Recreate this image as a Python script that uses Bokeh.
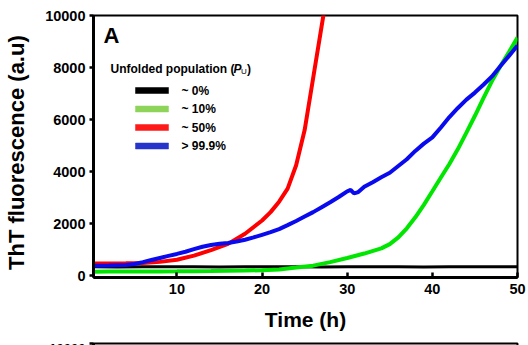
from bokeh.plotting import figure
from bokeh.layouts import column
from bokeh.models import Range1d, FixedTicker
from bokeh.core.properties import value
from bokeh.embed import file_html
from bokeh.resources import INLINE

# ---------------- data ----------------
t_black = [0.2, 3, 6, 9, 12, 15, 18, 21, 24, 27, 30, 33, 36, 39, 42, 45, 48, 50]
v_black = [350, 345, 352, 348, 350, 346, 352, 349, 350, 347, 352, 348, 350, 346, 351, 348, 350, 349]

t_green = [0.2, 2, 4, 6, 8, 10, 12, 14, 16, 18, 20, 22, 24, 26, 28, 30, 32, 34, 35,
           36, 37, 38, 39, 40, 41, 42, 43, 44, 45, 46, 47, 48, 49, 50]
v_green = [165, 168, 170, 172, 175, 178, 182, 188, 196, 206, 220, 250, 320, 395, 530, 690,
           860, 1060, 1220, 1480, 1830, 2250, 2730, 3250, 3780, 4300, 4870, 5500, 6150,
           6830, 7480, 8060, 8600, 9150]

t_red = [0.2, 2, 4, 6, 8, 10, 12, 14, 16, 18, 20, 21, 22, 23, 24, 25, 26, 27, 27.5]
v_red = [480, 480, 485, 500, 540, 620, 780, 990, 1230, 1620, 2130, 2450, 2850, 3350,
         4250, 5600, 7600, 9600, 10600]

t_blue = [0.2, 2, 4, 5, 6, 7, 8, 9, 10, 11, 12, 13, 14, 15, 16, 17, 18, 19, 20, 21, 22,
          23, 24, 25, 26, 27, 28, 29, 30, 30.4, 30.8, 31.3, 32, 33, 34, 35, 36, 37, 38,
          39, 40, 41, 42, 43, 44, 45, 46, 47, 48, 49, 50]
v_blue = [395, 400, 420, 460, 530, 610, 690, 770, 845, 930, 1030, 1120, 1190, 1235, 1265,
          1320, 1390, 1480, 1580, 1680, 1800, 1950, 2110, 2280, 2450, 2640, 2830, 3030,
          3250, 3300, 3170, 3220, 3420, 3600, 3790, 3960, 4220, 4480, 4800, 5080, 5320,
          5700, 6100, 6450, 6770, 7040, 7340, 7660, 8060, 8450, 8850]

legend_labels = ["~ 0%", "~ 10%", "~ 50%", "> 99.9%"]
line_colors = ["#000000", "#00e600", "#ff0000", "#0a0aee"]
swatch_colors = ["#000000", "#8ed45a", "#ff1a1a", "#2634cc"]
x_ticks = [10, 20, 30, 40, 50]
y_ticks = [0, 2000, 4000, 6000, 8000, 10000]

FONT = "Liberation Sans"
TICK_SIZE = "14.5px"

# ---------------- geometry ----------------
W, H = 528, 337
FL, FR, FT, FB = 93, 517, 15, 277
X0, X1 = 0.2, 50.0
Y0, Y1 = -60.0, 10000.0


def sx(px):
    return X0 + (px - FL) / (FR - FL) * (X1 - X0)


def sy(py):
    return Y0 + (FB - py) / (FB - FT) * (Y1 - Y0)


p = figure(width=W, height=H, output_backend="svg", toolbar_location=None,
           x_range=Range1d(X0, X1), y_range=Range1d(Y0, Y1),
           min_border_left=FL, min_border_right=W - FR,
           min_border_top=FT, min_border_bottom=H - FB)
p.grid.visible = False
p.outline_line_color = "black"
p.outline_line_width = 2
p.background_fill_color = "white"
p.border_fill_color = "white"

for ax in (p.xaxis[0], p.yaxis[0]):
    ax.axis_line_width = 3
    ax.axis_line_color = "black"
    ax.major_tick_line_width = 2.5
    ax.major_tick_line_color = "black"
    ax.minor_tick_line_color = None
    ax.major_label_text_font = FONT
    ax.major_label_text_font_style = "bold"
    ax.major_label_text_font_size = TICK_SIZE
    ax.major_label_text_color = "black"
    ax.axis_label_text_font = FONT
    ax.axis_label_text_font_style = "bold"
    ax.axis_label_text_font_size = "21px"
    ax.axis_label_text_color = "black"

p.xaxis.ticker = FixedTicker(ticks=x_ticks)
p.xaxis.major_tick_in = 5
p.xaxis.major_tick_out = 0
p.xaxis.major_label_standoff = 6
p.xaxis.axis_label = "Time (h)"
p.xaxis.axis_label_standoff = 11

p.yaxis.ticker = FixedTicker(ticks=y_ticks)
p.yaxis.major_tick_in = 0
p.yaxis.major_tick_out = 4
p.yaxis.major_label_standoff = 4
p.yaxis.axis_label = "ThT fluorescence (a.u)  "
p.yaxis.axis_label_text_font_size = "22px"
p.yaxis.axis_label_standoff = 13

# ---------------- curves ----------------
p.line(t_black, v_black, line_color=line_colors[0], line_width=3)
p.line(t_green, v_green, line_color=line_colors[1], line_width=4)
p.line(t_red, v_red, line_color=line_colors[2], line_width=4)
p.line(t_blue, v_blue, line_color=line_colors[3], line_width=4)

# ---------------- annotations ----------------
p.text(x=[sx(103)], y=[sy(35)], text=["A"], text_font=value(FONT),
       text_font_style="bold", text_font_size="22px", text_baseline="middle",
       text_align="left", text_color="black")

p.text(x=[sx(110)], y=[sy(68)], text=["Unfolded population ("], text_font=value(FONT),
       text_font_style="bold", text_font_size="12px", text_baseline="middle",
       text_align="left", text_color="black")
p.text(x=[sx(233)], y=[sy(68)], text=["P"], text_font=value(FONT),
       text_font_style="bold italic", text_font_size="12px", text_baseline="middle",
       text_align="left", text_color="black")
p.text(x=[sx(240.5)], y=[sy(71)], text=["U"], text_font=value(FONT),
       text_font_style="normal", text_font_size="8px", text_baseline="middle",
       text_align="left", text_color="black")
p.text(x=[sx(246.5)], y=[sy(68)], text=[")"], text_font=value(FONT),
       text_font_style="bold", text_font_size="12px", text_baseline="middle",
       text_align="left", text_color="black")

rows_py = [90, 108.5, 127, 145.5]
p.rect(x=[sx(151.5)] * 4, y=[sy(r) for r in rows_py], width=33, height=6,
       width_units="screen", height_units="screen",
       fill_color=swatch_colors, line_color=swatch_colors, line_width=0.5)
p.text(x=[sx(181)] * 4, y=[sy(r) for r in rows_py], text=legend_labels,
       text_font=value(FONT), text_font_style="bold", text_font_size="12px",
       text_baseline="middle", text_align="left", text_color="black")

# ---------------- top of next panel (cut off) ----------------
p2 = figure(width=W, height=8, output_backend="svg", toolbar_location=None,
            x_range=Range1d(X0, X1), y_range=Range1d(9990, 10000),
            min_border_left=FL, min_border_right=W - FR, min_border_top=2,
            min_border_bottom=0, x_axis_location=None)
p2.grid.visible = False
p2.outline_line_color = "black"
p2.outline_line_width = 2
p2.yaxis.ticker = FixedTicker(ticks=[10000])
p2.yaxis.axis_line_width = 3
p2.yaxis.major_tick_out = 4
p2.yaxis.major_tick_in = 0
p2.yaxis.major_tick_line_width = 2.5
p2.yaxis.minor_tick_line_color = None
p2.yaxis.major_label_standoff = 4
p2.yaxis.major_label_text_font = FONT
p2.yaxis.major_label_text_font_style = "bold"
p2.yaxis.major_label_text_font_size = "13px"
p2.yaxis.major_label_text_color = "black"

layout = column(p, p2, spacing=0)
open("out.html", "w").write(file_html(layout, INLINE))
